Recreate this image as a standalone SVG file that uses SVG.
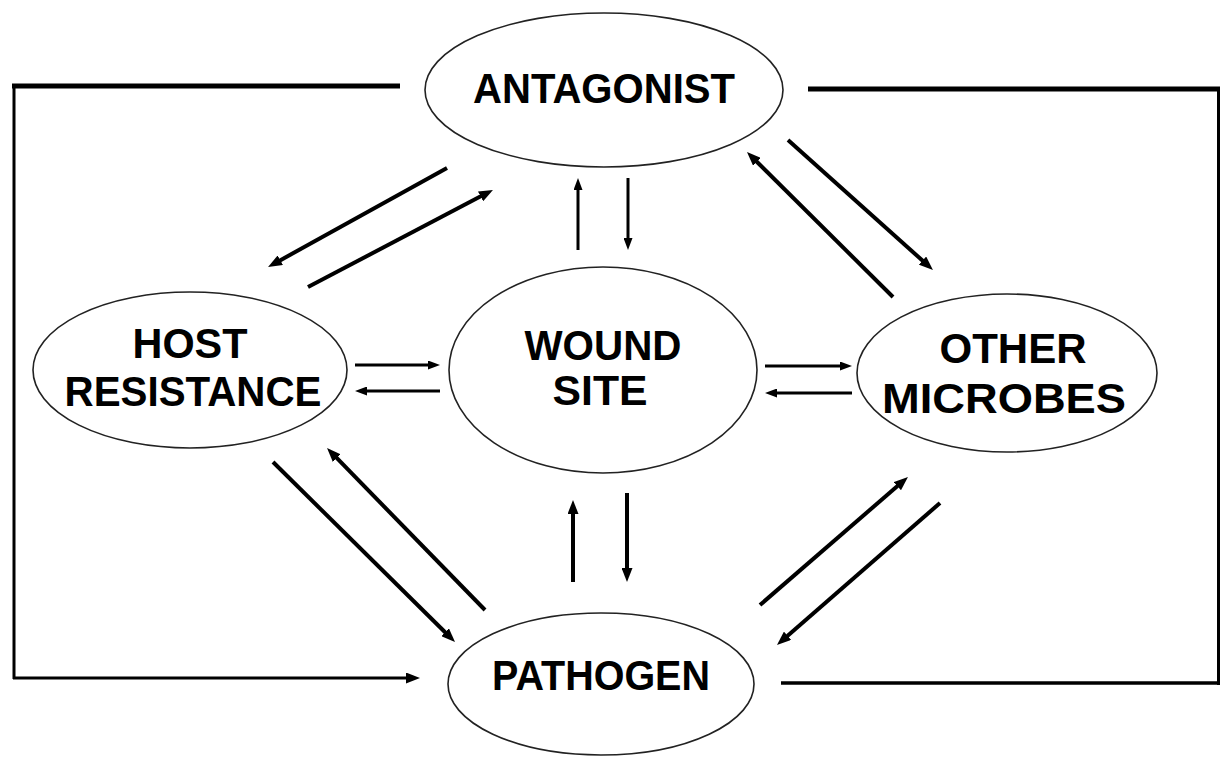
<svg xmlns="http://www.w3.org/2000/svg" width="1221" height="758" viewBox="0 0 1221 758">
<style>
.node ellipse{fill:none;stroke:#222;stroke-width:1.6}
.node text{font-family:"Liberation Sans",Arial,sans-serif;font-weight:bold;font-size:42px;fill:#000;text-anchor:middle}
.c line,.c path{stroke:#000;fill:none}
.d{stroke-width:4}
.t{stroke-width:3}
</style>
<defs>
<marker id="ah" markerUnits="userSpaceOnUse" markerWidth="15" markerHeight="11" refX="4" refY="5.5" orient="auto">
<path d="M0,0 L14,5.5 L0,11 z" fill="#000"/>
</marker>
<marker id="ahs" markerUnits="userSpaceOnUse" markerWidth="13" markerHeight="9" refX="3" refY="4.5" orient="auto">
<path d="M0,0 L12,4.5 L0,9 z" fill="#000"/>
</marker>
</defs>
<rect width="1221" height="758" fill="#fff"/>
<g id="connectors" class="c">
<line x1="400" y1="86" x2="12" y2="86" stroke-width="5"/>
<line x1="14" y1="84" x2="14" y2="679" stroke-width="3"/>
<line x1="13" y1="678" x2="410" y2="678" stroke-width="3" marker-end="url(#ah)"/>
<line x1="808" y1="89" x2="1220" y2="89" stroke-width="5"/>
<line x1="1218.5" y1="87" x2="1218.5" y2="685" stroke-width="3"/>
<line x1="1220" y1="683" x2="781" y2="683" stroke-width="3.5"/>
<line class="d" x1="447" y1="168" x2="276.8" y2="262.2" marker-end="url(#ah)"/>
<line class="d" x1="308" y1="287" x2="484.1" y2="194.6" marker-end="url(#ah)"/>
<line class="d" x1="893" y1="297" x2="754.1" y2="159" marker-end="url(#ah)"/>
<line class="d" x1="788" y1="140" x2="925.5" y2="263.3" marker-end="url(#ah)"/>
<line class="d" x1="273" y1="462" x2="447.9" y2="635" marker-end="url(#ah)"/>
<line class="d" x1="485" y1="610" x2="334" y2="455.2" marker-end="url(#ah)"/>
<line class="d" x1="760" y1="605" x2="900.4" y2="483.5" stroke-width="5" marker-end="url(#ah)"/>
<line class="d" x1="940" y1="503" x2="784.5" y2="638.4" marker-end="url(#ah)"/>
<line class="t" x1="355" y1="365" x2="431" y2="365" marker-end="url(#ahs)"/>
<line class="t" x1="440" y1="391" x2="364" y2="391" marker-end="url(#ahs)"/>
<line class="t" x1="765" y1="366" x2="843" y2="366" marker-end="url(#ahs)"/>
<line class="t" x1="852" y1="393" x2="774" y2="393" marker-end="url(#ahs)"/>
<line class="t" x1="578" y1="250" x2="578" y2="187" marker-end="url(#ahs)"/>
<line class="t" x1="628" y1="178" x2="628" y2="241" marker-end="url(#ahs)"/>
<line class="d" x1="573" y1="582" x2="573" y2="510" marker-end="url(#ah)"/>
<line class="d" x1="627" y1="493" x2="627" y2="572" marker-end="url(#ah)"/>
</g>
<g id="antagonist" class="node">
<ellipse cx="604" cy="90" rx="179" ry="77"/>
<text x="604" y="103" textLength="262" lengthAdjust="spacingAndGlyphs">ANTAGONIST</text>
</g>
<g id="host-resistance" class="node">
<ellipse cx="190" cy="370" rx="157" ry="78"/>
<text x="190" y="358" textLength="115" lengthAdjust="spacingAndGlyphs">HOST</text>
<text x="193" y="406" textLength="257" lengthAdjust="spacingAndGlyphs">RESISTANCE</text>
</g>
<g id="wound-site" class="node">
<ellipse cx="603" cy="370" rx="154" ry="103"/>
<text x="603" y="360" textLength="157" lengthAdjust="spacingAndGlyphs">WOUND</text>
<text x="600" y="405" textLength="95" lengthAdjust="spacingAndGlyphs">SITE</text>
</g>
<g id="other-microbes" class="node">
<ellipse cx="1007" cy="373" rx="150" ry="79"/>
<text x="1013" y="363" textLength="147" lengthAdjust="spacingAndGlyphs">OTHER</text>
<text x="1004" y="413" textLength="244" lengthAdjust="spacingAndGlyphs">MICROBES</text>
</g>
<g id="pathogen" class="node">
<ellipse cx="601" cy="684" rx="153" ry="71"/>
<text x="601" y="690" textLength="218" lengthAdjust="spacingAndGlyphs" font-size="38">PATHOGEN</text>
</g>
</svg>
